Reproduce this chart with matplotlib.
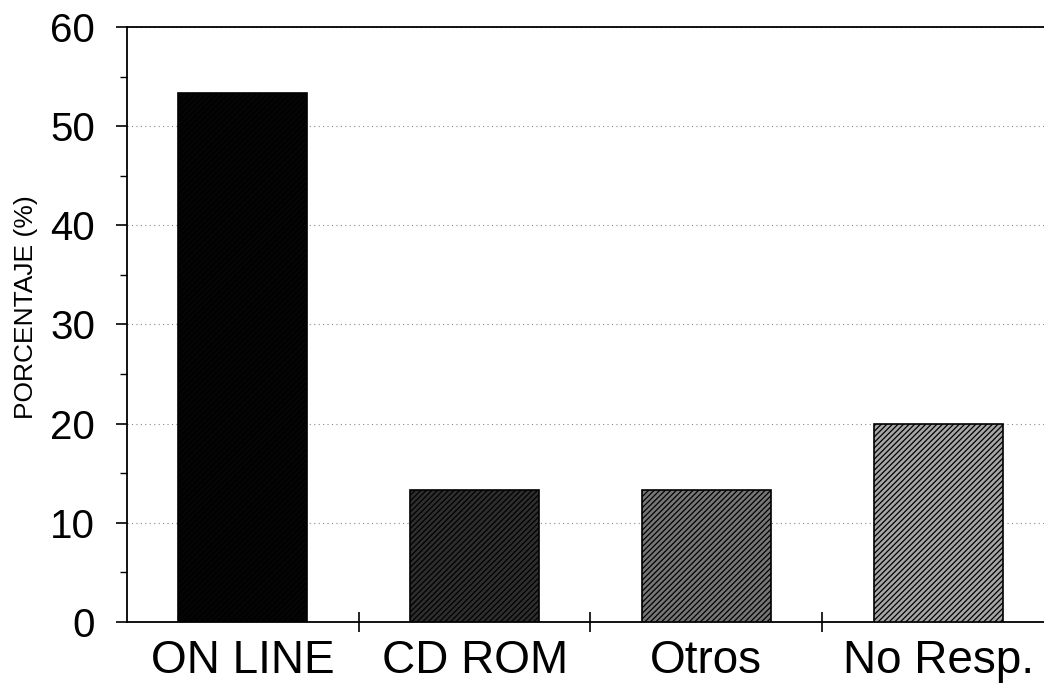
import matplotlib
matplotlib.use("Agg")
import matplotlib.pyplot as plt
from matplotlib.ticker import MultipleLocator, FixedLocator

categories = ["ON LINE", "CD ROM", "Otros", "No Resp."]
percentages = [53.3, 13.3, 13.3, 20.0]
fills = ["#050505", "#2e2e2e", "#767676", "#a6a6a6"]

plt.rcParams['font.family'] = ['Liberation Sans', 'DejaVu Sans']
plt.rcParams['hatch.linewidth'] = 0.9


def main():
    fig = plt.figure(figsize=(10.44, 6.83), dpi=100)
    ax = fig.add_axes([0.1216, 0.0893, 0.888, 0.8712])

    x = list(range(len(categories)))
    ax.bar(x, percentages, width=0.556, color=fills, edgecolor="black",
           hatch="//////", linewidth=1.2, zorder=3)

    ax.set_xlim(-0.5, len(categories) - 0.5)
    ax.set_ylim(0, 60)

    # dotted gridlines at the major y ticks
    ax.yaxis.set_major_locator(MultipleLocator(10))
    ax.yaxis.set_minor_locator(MultipleLocator(5))
    ax.grid(axis="y", which="major", linestyle=(0, (1, 3)),
            color="#888888", linewidth=0.8, zorder=0)

    # category labels at the centres, tick marks between categories
    ax.xaxis.set_major_locator(FixedLocator(x))
    ax.set_xticklabels(categories, fontsize=33)
    ax.xaxis.set_minor_locator(FixedLocator([i + 0.5 for i in x[:-1]]))
    ax.tick_params(axis="x", which="major", length=0, pad=12)
    ax.tick_params(axis="x", which="minor", direction="inout", length=14, width=1.2)

    ax.tick_params(axis="y", which="major", direction="out", length=8, width=1.2,
                   pad=15, labelsize=29)
    ax.tick_params(axis="y", which="minor", direction="out", length=5, width=1.0)

    for side in ["left", "bottom", "top"]:
        ax.spines[side].set_linewidth(1.3)
    ax.spines["right"].set_visible(False)

    ax.set_ylabel("PORCENTAJE (%)", fontsize=19)
    ax.yaxis.set_label_coords(-0.096, 0.53)

    fig.savefig("out.png", dpi=100)


if __name__ == '__main__':
    main()
